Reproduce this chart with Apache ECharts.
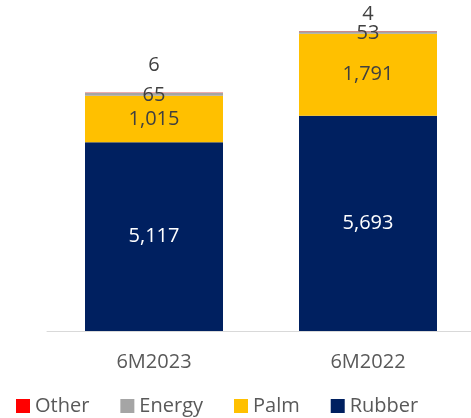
<!DOCTYPE html>
<html>
<head>
<meta charset="utf-8">
<script src="https://cdn.jsdelivr.net/npm/echarts@6/dist/echarts.min.js"></script>
<style>
html,body{margin:0;padding:0;background:#fff;}
#chart{width:471px;height:418px;}
</style>
</head>
<body>
<div id="chart"></div>
<script>
var categories = ['6M2023', '6M2022'];
var rubber = [5117, 5693];
var palm = [1015, 1791];
var energy = [65, 53];
var other = [6, 4];
var legendOrder = ['Other', 'Energy', 'Palm', 'Rubber'];

var FONT = '"Open Sans", sans-serif';
var otherLabelDist = [17, 7];

function fmt(p) { return p.value.toLocaleString('en-US'); }

var chart = echarts.init(document.getElementById('chart'), null, {renderer: 'canvas'});
chart.setOption({
  animation: false,
  grid: {left: 47, top: 10, width: 428, height: 321, containLabel: false, outerBoundsMode: 'none'},
  legend: {
    data: legendOrder,
    left: 11, top: 391,
    itemWidth: 14, itemHeight: 14, itemGap: 31,
    icon: 'rect',
    textStyle: {fontFamily: FONT, fontSize: 20, color: '#595959'}
  },
  xAxis: {
    type: 'category', data: categories,
    axisLine: {lineStyle: {color: '#d9d9d9', width: 1}},
    axisTick: {show: false},
    axisLabel: {fontFamily: FONT, fontSize: 20, color: '#595959', margin: 21}
  },
  yAxis: {type: 'value', min: 1000, max: 8000, show: false, splitLine: {show: false}},
  series: [
    {name: 'Rubber', type: 'bar', stack: 't', data: rubber, barWidth: 138,
     itemStyle: {color: '#002060'},
     label: {show: true, position: 'inside', formatter: fmt, fontFamily: FONT, fontSize: 20, color: '#ffffff'}},
    {name: 'Palm', type: 'bar', stack: 't', data: palm,
     itemStyle: {color: '#FFC000'},
     label: {show: true, position: 'inside', formatter: fmt, fontFamily: FONT, fontSize: 20, color: '#404040'}},
    {name: 'Energy', type: 'bar', stack: 't', data: energy,
     itemStyle: {color: '#A5A5A5'},
     label: {show: true, position: 'inside', offset: [0, 1], formatter: fmt, fontFamily: FONT, fontSize: 20, color: '#404040'}},
    {name: 'Other', type: 'bar', stack: 't',
     data: other.map(function (v, i) { return {value: v, label: {distance: otherLabelDist[i]}}; }),
     itemStyle: {color: '#FF0000'},
     label: {show: true, position: 'top', formatter: fmt, fontFamily: FONT, fontSize: 20, color: '#404040'}}
  ]
});
</script>
</body>
</html>
